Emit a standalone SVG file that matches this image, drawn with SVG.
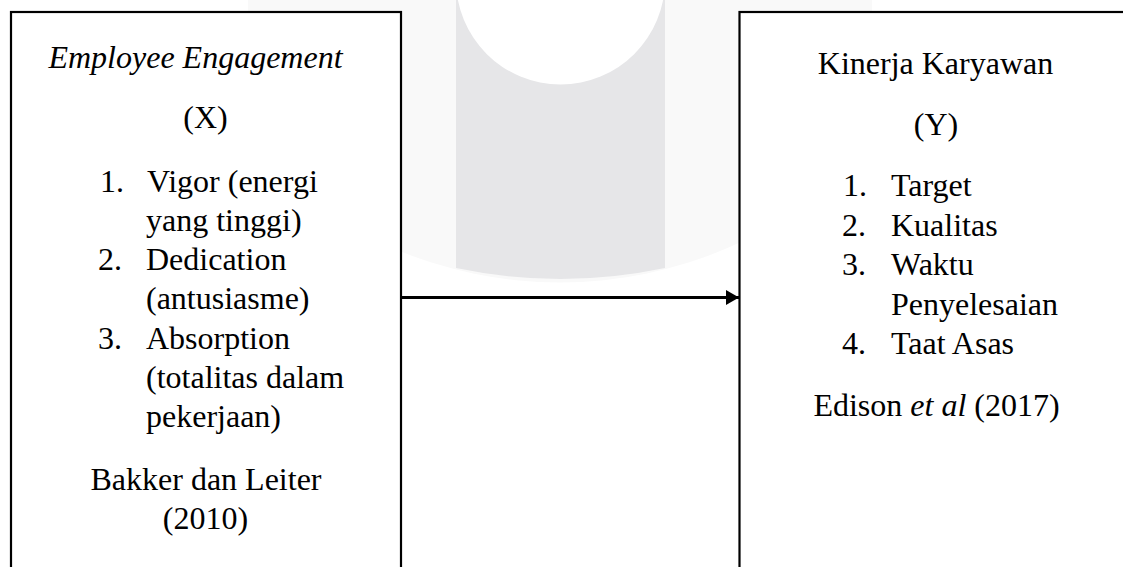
<svg xmlns="http://www.w3.org/2000/svg" width="1123" height="567" viewBox="0 0 1123 567">
<style>
.t{font-family:"Liberation Serif","Times New Roman",serif;font-size:32px;fill:#000}
.m{text-anchor:middle}
.box{fill:#fff;stroke:#000;stroke-width:2.2}
</style>
<defs>
<marker id="ah" markerUnits="userSpaceOnUse" markerWidth="14" markerHeight="16" refX="13" refY="8" orient="auto">
<polygon points="0,0.5 13,8 0,15.5" fill="#000"/>
</marker>
</defs>
<rect width="1123" height="567" fill="#fff"/>
<g id="watermark">
<path d="M248,0 L248,146 A425,425 0 0,0 872,146 L872,0 Z" fill="#f9f9f9"/>
<path d="M456,0 L456,268 Q560.5,290 665,268 L665,0 Z" fill="#e6e6e8"/>
<circle cx="560.5" cy="-20" r="104.5" fill="#fff"/>
</g>
<g id="connectors">
<line x1="401" y1="297.5" x2="739" y2="297.5" stroke="#000" stroke-width="3" marker-end="url(#ah)"/>
</g>
<g id="node-x">
<rect class="box" x="11" y="12" width="390" height="620"/>
<text class="t m" x="195.5" y="68" font-style="italic">Employee Engagement</text>
<text class="t m" x="205.5" y="128">(X)</text>
<text class="t" x="100" y="192">1.</text><text class="t" x="147" y="192">Vigor (energi</text>
<text class="t" x="146" y="231">yang tinggi)</text>
<text class="t" x="98" y="270">2.</text><text class="t" x="146" y="270">Dedication</text>
<text class="t" x="146" y="309">(antusiasme)</text>
<text class="t" x="98" y="349">3.</text><text class="t" x="146" y="349">Absorption</text>
<text class="t" x="146" y="388">(totalitas dalam</text>
<text class="t" x="146" y="427">pekerjaan)</text>
<text class="t m" x="206" y="490">Bakker dan Leiter</text>
<text class="t m" x="205.5" y="529">(2010)</text>
</g>
<g id="node-y">
<rect class="box" x="739.5" y="12" width="500" height="620"/>
<text class="t m" x="935.5" y="74">Kinerja Karyawan</text>
<text class="t m" x="936" y="135">(Y)</text>
<text class="t" x="843" y="196">1.</text><text class="t" x="891" y="196">Target</text>
<text class="t" x="842" y="235.5">2.</text><text class="t" x="891" y="235.5">Kualitas</text>
<text class="t" x="842" y="275">3.</text><text class="t" x="891" y="275">Waktu</text>
<text class="t" x="891" y="314.5">Penyelesaian</text>
<text class="t" x="842" y="354">4.</text><text class="t" x="891" y="354">Taat Asas</text>
<text class="t m" x="936.5" y="416">Edison <tspan font-style="italic">et al</tspan> (2017)</text>
</g>
</svg>
